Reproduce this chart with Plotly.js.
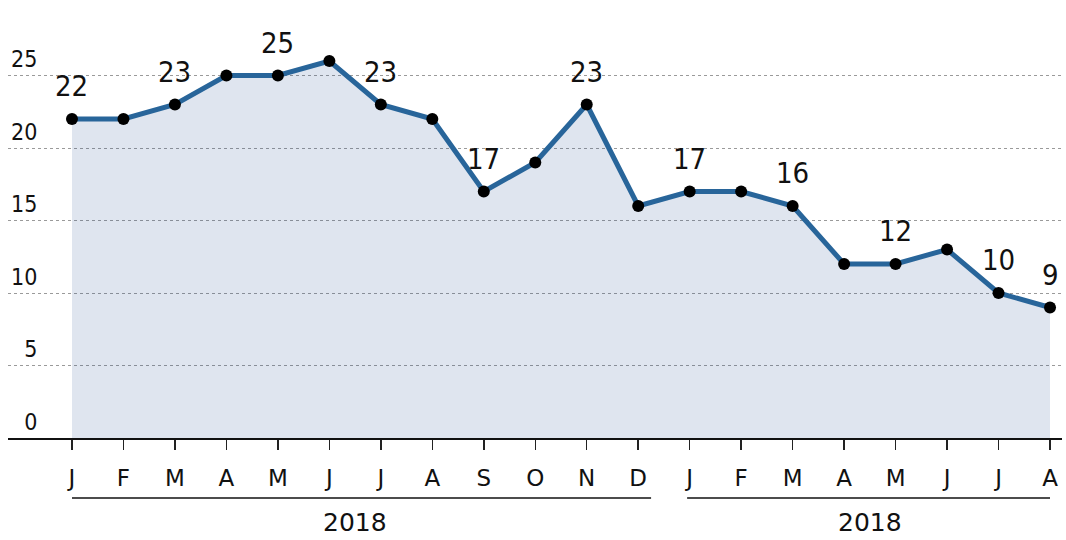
<!DOCTYPE html>
<html>
<head>
<meta charset="utf-8">
<script src="https://cdn.plot.ly/plotly-3.0.1.min.js"></script>
<style>
html,body{margin:0;padding:0;background:#fff;}#chart{width:1066px;height:540px;}
</style>
</head>
<body>
<div id="chart"></div>
<script>
const months = ['J','F','M','A','M','J','J','A','S','O','N','D','J','F','M','A','M','J','J','A'];
const values = [22,22,23,25,25,26,23,22,17,19,23,16,17,17,16,12,12,13,10,9];
const labels = ['22','','23','','25','','23','','17','','23','','17','','16','','12','','10','9'];
const yTicks = [0,5,10,15,20,25,30];
const yTickText = ['\u20070','\u20075','10','15','20','25',''];
const groups = [{name:'2018', start:0, end:11.25}, {name:'2018', start:11.95, end:19}];

const idx = values.map((v,i)=>i);
const narrow = 'DejaVu Sans Condensed, Noto Sans';
const wide = 'DejaVu Sans, Verdana, sans-serif';

const trace = {
  x: idx, y: values,
  type: 'scatter', mode: 'lines+markers',
  fill: 'tozeroy', fillcolor: 'rgba(30,70,140,0.14)',
  line: {color: '#28659a', width: 5},
  marker: {color: '#000', size: 12},
  cliponaxis: false, hoverinfo: 'none'
};

const shapes = groups.map(g => ({
  type: 'line', xref: 'x', yref: 'paper', x0: g.start, x1: g.end, y0: -0.138, y1: -0.138,
  line: {color: '#111', width: 1.5}
}));
const annotations = groups.map(g => ({
  xref: 'x', yref: 'paper', x: (g.start + g.end) / 2 + (g === groups[0] ? -0.125 : 0.025), y: -0.195,
  text: g.name, showarrow: false, yanchor: 'middle',
  font: {family: wide, size: 25, color: '#111'}
}));
labels.forEach((t, i) => {
  if (!t) return;
  annotations.push({
    xref: 'x', yref: 'y', x: i, y: values[i], text: t, showarrow: false,
    xanchor: 'center', yanchor: 'bottom', yshift: 14,
    font: {family: narrow, size: 29, color: '#111'}
  });
});

const layout = {
  width: 1066, height: 540,
  margin: {l: 8, r: 4, t: 3, b: 102},
  paper_bgcolor: '#fff', plot_bgcolor: '#fff',
  showlegend: false,
  xaxis: {
    range: [-1.243, 19.233], tickvals: idx, ticktext: months,
    ticks: 'outside', ticklen: 10, tickwidth: 1.5, tickcolor: '#222',
    showgrid: false, zeroline: false, showline: true, linecolor: '#111', linewidth: 1.5,
    tickfont: {family: wide, size: 23, color: '#111'}, ticklabelstandoff: 9
  },
  yaxis: {
    range: [0, 30], tickvals: yTicks, ticktext: yTickText,
    ticklabelposition: 'inside top', showgrid: true, gridcolor: '#9a9a9a', griddash: 'dot', gridwidth: 1,
    zeroline: false, showline: false, ticks: '',
    tickfont: {family: narrow, size: 23, color: '#111'}
  },
  shapes: shapes, annotations: annotations
};
Plotly.newPlot('chart', [trace], layout, {staticPlot: true, displayModeBar: false});
</script>
</body>
</html>
